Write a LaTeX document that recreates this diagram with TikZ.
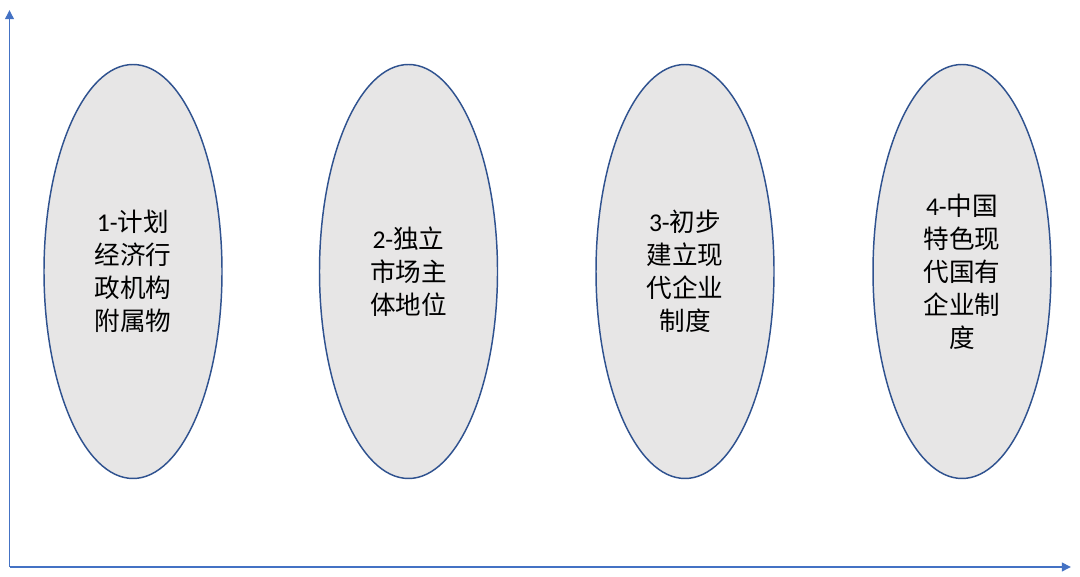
\documentclass[tikz,border=0pt]{standalone}
\usepackage{fontspec}
\setmainfont{Carlito}
\newfontfamily\cjk{Noto Sans CJK SC}
\usepackage{tikz}
\usetikzlibrary{arrows.meta}
\usetikzlibrary{shapes.geometric}
\definecolor{axisblue}{HTML}{4472C4}
\definecolor{rimblue}{HTML}{2F528F}
\definecolor{stagegray}{HTML}{E7E6E6}
\pgfdeclarelayer{edgelayer}
\pgfdeclarelayer{nodelayer}
\pgfsetlayers{edgelayer,nodelayer,main}
\tikzset{
	stage/.style={ellipse, draw=rimblue, fill=stagegray, line width=1.1pt,
		minimum width=133.5pt, minimum height=310.5pt, inner sep=0pt,
		align=center, font=\fontsize{19.2pt}{24.75pt}\selectfont\cjk},
	axis/.style={draw=axisblue, line width=1.1pt, -{Triangle[length=6.8pt, width=6.5pt]}}
}

\begin{document}
\begin{tikzpicture}[x=0.75pt, y=0.75pt]
	\useasboundingbox (0, 0) rectangle (1080, 577);
	\begin{pgfonlayer}{nodelayer}
		\node [style=stage] (1) at (133, 305.5) {{\rmfamily 1-}计划\\经济行\\政机构\\附属物};
		\node [style=stage] (2) at (408.5, 305.5) {{\rmfamily 2-}独立\\市场主\\体地位};
		\node [style=stage] (3) at (685, 305.5) {{\rmfamily 3-}初步\\建立现\\代企业\\制度};
		\node [style=stage] (4) at (962, 305.5) {{\rmfamily 4-}中国\\特色现\\代国有\\企业制\\度};
		\coordinate (o) at (9.5, 10);
		\coordinate (ytip) at (9.5, 567);
		\coordinate (xtip) at (1071, 10);
	\end{pgfonlayer}
	\begin{pgfonlayer}{edgelayer}
		\draw [style=axis] (o) to (ytip);
		\draw [style=axis] (o) to (xtip);
	\end{pgfonlayer}
\end{tikzpicture}
\end{document}
